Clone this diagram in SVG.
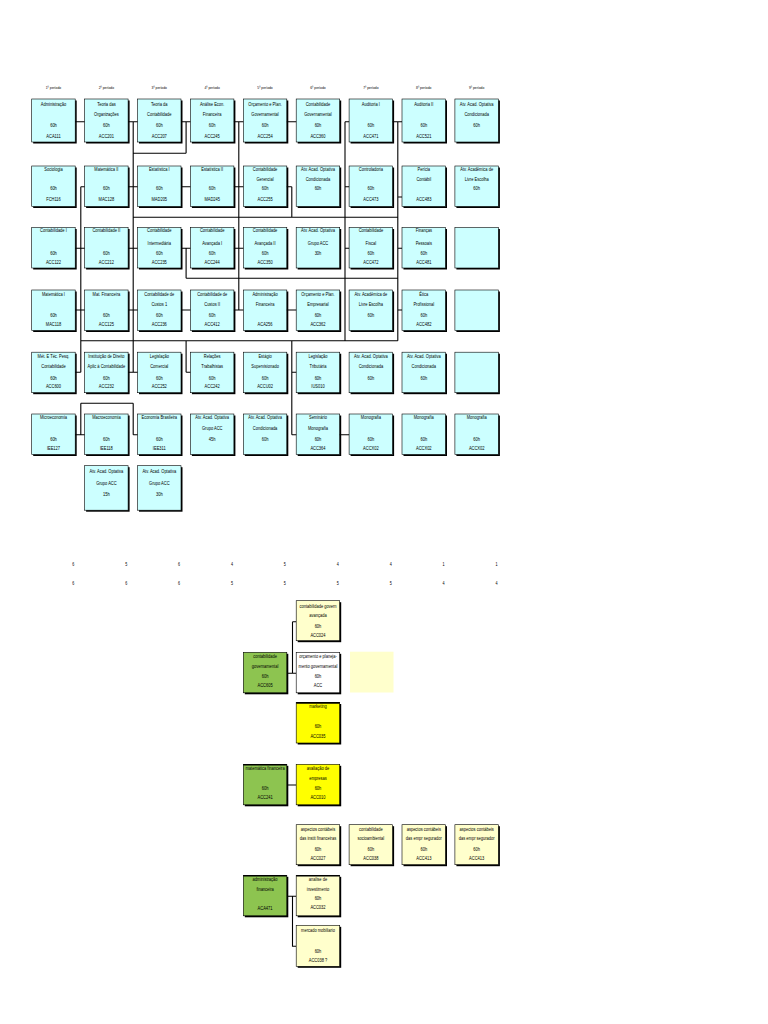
<svg xmlns="http://www.w3.org/2000/svg" width="768" height="1024" viewBox="0 0 768 1024">
<style>
.sh{fill:#000}
.b{stroke:#000;stroke-width:0.6}
.cy{fill:#CCFFFF}.ly{fill:#FFFFCC}.ye{fill:#FFFF00}.gr{fill:#8DC450}.wh{fill:#FFFFFF}
text{font-family:"Liberation Sans",Arial,sans-serif;font-size:4.9px;text-anchor:middle;fill:#000;transform-box:fill-box;transform-origin:center;transform:scaleX(0.82)}
.p{font-size:4.1px}
.n{font-size:4.5px;text-anchor:end}
.c{fill:none;stroke:#000;stroke-width:1.1}
.tt{stroke:#000;stroke-width:1.6}
</style>
<rect width="768" height="1024" fill="#fff"/>
<g id="periodos">
<text class="p" x="53.45" y="88.8">1º período</text>
<text class="p" x="106.35" y="88.8">2º período</text>
<text class="p" x="159.25" y="88.8">3º período</text>
<text class="p" x="212.15" y="88.8">4º período</text>
<text class="p" x="265.05" y="88.8">5º período</text>
<text class="p" x="317.95" y="88.8">6º período</text>
<text class="p" x="370.85" y="88.8">7º período</text>
<text class="p" x="423.75" y="88.8">8º período</text>
<text class="p" x="476.65" y="88.8">9º período</text>
</g>
<!-- Row 1 -->
<g id="r1c1"><rect class="sh" x="33.2" y="100.5" width="43.5" height="43"/><rect class="b cy" x="31.7" y="99" width="43.5" height="43"/><text x="53.45" y="105.8">Administração</text><text x="53.45" y="126.8">60h</text><text x="53.45" y="138.5">ACA111</text></g>
<g id="r1c2"><rect class="sh" x="86.1" y="100.5" width="43.5" height="43"/><rect class="b cy" x="84.6" y="99" width="43.5" height="43"/><text x="106.35" y="105.8">Teoria das</text><text x="106.35" y="116.3">Organizações</text><text x="106.35" y="126.8">60h</text><text x="106.35" y="138.5">ACC201</text></g>
<g id="r1c3"><rect class="sh" x="139" y="100.5" width="43.5" height="43"/><rect class="b cy" x="137.5" y="99" width="43.5" height="43"/><text x="159.25" y="105.8">Teoria da</text><text x="159.25" y="116.3">Contabilidade</text><text x="159.25" y="126.8">60h</text><text x="159.25" y="138.5">ACC207</text></g>
<g id="r1c4"><rect class="sh" x="191.9" y="100.5" width="43.5" height="43"/><rect class="b cy" x="190.4" y="99" width="43.5" height="43"/><text x="212.15" y="105.8">Análise Econ.</text><text x="212.15" y="116.3">Financeira</text><text x="212.15" y="126.8">60h</text><text x="212.15" y="138.5">ACC245</text></g>
<g id="r1c5"><rect class="sh" x="244.8" y="100.5" width="43.5" height="43"/><rect class="b cy" x="243.3" y="99" width="43.5" height="43"/><text x="265.05" y="105.8">Orçamento e Plan.</text><text x="265.05" y="116.3">Governamental</text><text x="265.05" y="126.8">60h</text><text x="265.05" y="138.5">ACC254</text></g>
<g id="r1c6"><rect class="sh" x="297.7" y="100.5" width="43.5" height="43"/><rect class="b cy" x="296.2" y="99" width="43.5" height="43"/><text x="317.95" y="105.8">Contabilidade</text><text x="317.95" y="116.3">Governamental</text><text x="317.95" y="126.8">60h</text><text x="317.95" y="138.5">ACC360</text></g>
<g id="r1c7"><rect class="sh" x="350.6" y="100.5" width="43.5" height="43"/><rect class="b cy" x="349.1" y="99" width="43.5" height="43"/><text x="370.85" y="105.8">Auditoria I</text><text x="370.85" y="126.8">60h</text><text x="370.85" y="138.5">ACC471</text></g>
<g id="r1c8"><rect class="sh" x="403.5" y="100.5" width="43.5" height="43"/><rect class="b cy" x="402" y="99" width="43.5" height="43"/><text x="423.75" y="105.8">Auditoria II</text><text x="423.75" y="126.8">60h</text><text x="423.75" y="138.5">ACC521</text></g>
<g id="r1c9"><rect class="sh" x="456.4" y="100.5" width="43.5" height="43"/><rect class="b cy" x="454.9" y="99" width="43.5" height="43"/><text x="476.65" y="105.8">Atv. Acad. Optativa</text><text x="476.65" y="116.3">Condicionada</text><text x="476.65" y="126.8">60h</text></g>
<!-- Row 2 -->
<g id="r2c1"><rect class="sh" x="33.2" y="167.5" width="43.5" height="40.5"/><rect class="b cy" x="31.7" y="166" width="43.5" height="40.5"/><text x="53.45" y="171.3">Sociologia</text><text x="53.45" y="189.8">60h</text><text x="53.45" y="201.3">FCH116</text></g>
<g id="r2c2"><rect class="sh" x="86.1" y="167.5" width="43.5" height="40.5"/><rect class="b cy" x="84.6" y="166" width="43.5" height="40.5"/><text x="106.35" y="171.3">Matemática II</text><text x="106.35" y="189.8">60h</text><text x="106.35" y="201.3">MAC128</text></g>
<g id="r2c3"><rect class="sh" x="139" y="167.5" width="43.5" height="40.5"/><rect class="b cy" x="137.5" y="166" width="43.5" height="40.5"/><text x="159.25" y="171.3">Estatística I</text><text x="159.25" y="189.8">60h</text><text x="159.25" y="201.3">MAD205</text></g>
<g id="r2c4"><rect class="sh" x="191.9" y="167.5" width="43.5" height="40.5"/><rect class="b cy" x="190.4" y="166" width="43.5" height="40.5"/><text x="212.15" y="171.3">Estatística II</text><text x="212.15" y="189.8">60h</text><text x="212.15" y="201.3">MAD245</text></g>
<g id="r2c5"><rect class="sh" x="244.8" y="167.5" width="43.5" height="40.5"/><rect class="b cy" x="243.3" y="166" width="43.5" height="40.5"/><text x="265.05" y="171.3">Contabilidade</text><text x="265.05" y="181.3">Gerencial</text><text x="265.05" y="189.8">60h</text><text x="265.05" y="201.3">ACC255</text></g>
<g id="r2c6"><rect class="sh" x="297.7" y="167.5" width="43.5" height="40.5"/><rect class="b cy" x="296.2" y="166" width="43.5" height="40.5"/><text x="317.95" y="171.3">Atv. Acad. Optativa</text><text x="317.95" y="181.3">Condicionada</text><text x="317.95" y="189.8">60h</text></g>
<g id="r2c7"><rect class="sh" x="350.6" y="167.5" width="43.5" height="40.5"/><rect class="b cy" x="349.1" y="166" width="43.5" height="40.5"/><text x="370.85" y="171.3">Controladoria</text><text x="370.85" y="189.8">60h</text><text x="370.85" y="201.3">ACC473</text></g>
<g id="r2c8"><rect class="sh" x="403.5" y="167.5" width="43.5" height="40.5"/><rect class="b cy" x="402" y="166" width="43.5" height="40.5"/><text x="423.75" y="171.3">Perícia</text><text x="423.75" y="181.3">Contábil</text><text x="423.75" y="201.3">ACC483</text></g>
<g id="r2c9"><rect class="sh" x="456.4" y="167.5" width="43.5" height="40.5"/><rect class="b cy" x="454.9" y="166" width="43.5" height="40.5"/><text x="476.65" y="171.3">Atv. Acadêmica de</text><text x="476.65" y="181.3">Livre Escolha</text><text x="476.65" y="189.8">60h</text></g>
<!-- Row 3 -->
<g id="r3c1"><rect class="sh" x="33.2" y="229" width="43.5" height="40.5"/><rect class="b cy" x="31.7" y="227.5" width="43.5" height="40.5"/><text x="53.45" y="232.5">Contabilidade I</text><text x="53.45" y="255.1">60h</text><text x="53.45" y="264.5">ACC122</text></g>
<g id="r3c2"><rect class="sh" x="86.1" y="229" width="43.5" height="40.5"/><rect class="b cy" x="84.6" y="227.5" width="43.5" height="40.5"/><text x="106.35" y="232.5">Contabilidade II</text><text x="106.35" y="255.1">60h</text><text x="106.35" y="264.5">ACC212</text></g>
<g id="r3c3"><rect class="sh" x="139" y="229" width="43.5" height="40.5"/><rect class="b cy" x="137.5" y="227.5" width="43.5" height="40.5"/><text x="159.25" y="232.5">Contabilidade</text><text x="159.25" y="245.1">Intermediária</text><text x="159.25" y="255.1">60h</text><text x="159.25" y="264.5">ACC235</text></g>
<g id="r3c4"><rect class="sh" x="191.9" y="229" width="43.5" height="40.5"/><rect class="b cy" x="190.4" y="227.5" width="43.5" height="40.5"/><text x="212.15" y="232.5">Contabilidade</text><text x="212.15" y="245.1">Avançada I</text><text x="212.15" y="255.1">60h</text><text x="212.15" y="264.5">ACC244</text></g>
<g id="r3c5"><rect class="sh" x="244.8" y="229" width="43.5" height="40.5"/><rect class="b cy" x="243.3" y="227.5" width="43.5" height="40.5"/><text x="265.05" y="232.5">Contabilidade</text><text x="265.05" y="245.1">Avançada II</text><text x="265.05" y="255.1">60h</text><text x="265.05" y="264.5">ACC350</text></g>
<g id="r3c6"><rect class="sh" x="297.7" y="229" width="43.5" height="40.5"/><rect class="b cy" x="296.2" y="227.5" width="43.5" height="40.5"/><text x="317.95" y="232.5">Atv. Acad. Optativa</text><text x="317.95" y="245.1">Grupo ACC</text><text x="317.95" y="255.1">30h</text></g>
<g id="r3c7"><rect class="sh" x="350.6" y="229" width="43.5" height="40.5"/><rect class="b cy" x="349.1" y="227.5" width="43.5" height="40.5"/><text x="370.85" y="232.5">Contabilidade</text><text x="370.85" y="245.1">Fiscal</text><text x="370.85" y="255.1">60h</text><text x="370.85" y="264.5">ACC472</text></g>
<g id="r3c8"><rect class="sh" x="403.5" y="229" width="43.5" height="40.5"/><rect class="b cy" x="402" y="227.5" width="43.5" height="40.5"/><text x="423.75" y="232.5">Finanças</text><text x="423.75" y="245.1">Pessoais</text><text x="423.75" y="255.1">60h</text><text x="423.75" y="264.5">ACC481</text></g>
<g id="r3c9"><rect class="sh" x="456.4" y="229" width="43.5" height="40.5"/><rect class="b cy" x="454.9" y="227.5" width="43.5" height="40.5"/></g>
<!-- Row 4 -->
<g id="r4c1"><rect class="sh" x="33.2" y="291.5" width="43.5" height="40.5"/><rect class="b cy" x="31.7" y="290" width="43.5" height="40.5"/><text x="53.45" y="295.8">Matemática I</text><text x="53.45" y="316.8">60h</text><text x="53.45" y="325.8">MAC118</text></g>
<g id="r4c2"><rect class="sh" x="86.1" y="291.5" width="43.5" height="40.5"/><rect class="b cy" x="84.6" y="290" width="43.5" height="40.5"/><text x="106.35" y="295.8">Mat. Financeira</text><text x="106.35" y="316.8">60h</text><text x="106.35" y="325.8">ACC125</text></g>
<g id="r4c3"><rect class="sh" x="139" y="291.5" width="43.5" height="40.5"/><rect class="b cy" x="137.5" y="290" width="43.5" height="40.5"/><text x="159.25" y="295.8">Contabilidade de</text><text x="159.25" y="306.1">Custos 1</text><text x="159.25" y="316.8">60h</text><text x="159.25" y="325.8">ACC236</text></g>
<g id="r4c4"><rect class="sh" x="191.9" y="291.5" width="43.5" height="40.5"/><rect class="b cy" x="190.4" y="290" width="43.5" height="40.5"/><text x="212.15" y="295.8">Contabilidade de</text><text x="212.15" y="306.1">Custos II</text><text x="212.15" y="316.8">60h</text><text x="212.15" y="325.8">ACC412</text></g>
<g id="r4c5"><rect class="sh" x="244.8" y="291.5" width="43.5" height="40.5"/><rect class="b cy" x="243.3" y="290" width="43.5" height="40.5"/><text x="265.05" y="295.8">Administração</text><text x="265.05" y="306.1">Financeira</text><text x="265.05" y="325.8">ACA256</text></g>
<g id="r4c6"><rect class="sh" x="297.7" y="291.5" width="43.5" height="40.5"/><rect class="b cy" x="296.2" y="290" width="43.5" height="40.5"/><text x="317.95" y="295.8">Orçamento e Plan.</text><text x="317.95" y="306.1">Empresarial</text><text x="317.95" y="316.8">60h</text><text x="317.95" y="325.8">ACC362</text></g>
<g id="r4c7"><rect class="sh" x="350.6" y="291.5" width="43.5" height="40.5"/><rect class="b cy" x="349.1" y="290" width="43.5" height="40.5"/><text x="370.85" y="295.8">Atv. Acadêmica de</text><text x="370.85" y="306.1">Livre Escolha</text><text x="370.85" y="316.8">60h</text></g>
<g id="r4c8"><rect class="sh" x="403.5" y="291.5" width="43.5" height="40.5"/><rect class="b cy" x="402" y="290" width="43.5" height="40.5"/><text x="423.75" y="295.8">Ética</text><text x="423.75" y="306.1">Profissional</text><text x="423.75" y="316.8">60h</text><text x="423.75" y="325.8">ACC482</text></g>
<g id="r4c9"><rect class="sh" x="456.4" y="291.5" width="43.5" height="40.5"/><rect class="b cy" x="454.9" y="290" width="43.5" height="40.5"/></g>
<!-- Row 5 -->
<g id="r5c1"><rect class="sh" x="33.2" y="353.7" width="43.5" height="40.5"/><rect class="b cy" x="31.7" y="352.2" width="43.5" height="40.5"/><text x="53.45" y="358.5">Mét. E Téc. Pesq.</text><text x="53.45" y="368.5">Contabilidade</text><text x="53.45" y="380.1">60h</text><text x="53.45" y="388.5">ACC600</text></g>
<g id="r5c2"><rect class="sh" x="86.1" y="353.7" width="43.5" height="40.5"/><rect class="b cy" x="84.6" y="352.2" width="43.5" height="40.5"/><text x="106.35" y="358.5">Instituição de Direito</text><text x="106.35" y="368.5">Aplic à Contabilidade</text><text x="106.35" y="380.1">60h</text><text x="106.35" y="388.5">ACC232</text></g>
<g id="r5c3"><rect class="sh" x="139" y="353.7" width="43.5" height="40.5"/><rect class="b cy" x="137.5" y="352.2" width="43.5" height="40.5"/><text x="159.25" y="358.5">Legislação</text><text x="159.25" y="368.5">Comercial</text><text x="159.25" y="380.1">60h</text><text x="159.25" y="388.5">ACC252</text></g>
<g id="r5c4"><rect class="sh" x="191.9" y="353.7" width="43.5" height="40.5"/><rect class="b cy" x="190.4" y="352.2" width="43.5" height="40.5"/><text x="212.15" y="358.5">Relações</text><text x="212.15" y="368.5">Trabalhistas</text><text x="212.15" y="380.1">60h</text><text x="212.15" y="388.5">ACC242</text></g>
<g id="r5c5"><rect class="sh" x="244.8" y="353.7" width="43.5" height="40.5"/><rect class="b cy" x="243.3" y="352.2" width="43.5" height="40.5"/><text x="265.05" y="358.5">Estágio</text><text x="265.05" y="368.5">Supervisionado</text><text x="265.05" y="380.1">60h</text><text x="265.05" y="388.5">ACCU02</text></g>
<g id="r5c6"><rect class="sh" x="297.7" y="353.7" width="43.5" height="40.5"/><rect class="b cy" x="296.2" y="352.2" width="43.5" height="40.5"/><text x="317.95" y="358.5">Legislação</text><text x="317.95" y="368.5">Tributária</text><text x="317.95" y="380.1">60h</text><text x="317.95" y="388.5">IUS010</text></g>
<g id="r5c7"><rect class="sh" x="350.6" y="353.7" width="43.5" height="40.5"/><rect class="b cy" x="349.1" y="352.2" width="43.5" height="40.5"/><text x="370.85" y="358.5">Atv. Acad. Optativa</text><text x="370.85" y="368.5">Condicionada</text><text x="370.85" y="380.1">60h</text></g>
<g id="r5c8"><rect class="sh" x="403.5" y="353.7" width="43.5" height="40.5"/><rect class="b cy" x="402" y="352.2" width="43.5" height="40.5"/><text x="423.75" y="358.5">Atv. Acad. Optativa</text><text x="423.75" y="368.5">Condicionada</text><text x="423.75" y="380.1">60h</text></g>
<g id="r5c9"><rect class="sh" x="456.4" y="353.7" width="43.5" height="40.5"/><rect class="b cy" x="454.9" y="352.2" width="43.5" height="40.5"/></g>
<!-- Row 6 -->
<g id="r6c1"><rect class="sh" x="33.2" y="415.5" width="43.5" height="40.5"/><rect class="b cy" x="31.7" y="414" width="43.5" height="40.5"/><text x="53.45" y="419.1">Microeconomia</text><text x="53.45" y="441.3">60h</text><text x="53.45" y="450.3">IEE127</text></g>
<g id="r6c2"><rect class="sh" x="86.1" y="415.5" width="43.5" height="40.5"/><rect class="b cy" x="84.6" y="414" width="43.5" height="40.5"/><text x="106.35" y="419.1">Macroeconomia</text><text x="106.35" y="441.3">60h</text><text x="106.35" y="450.3">IEE118</text></g>
<g id="r6c3"><rect class="sh" x="139" y="415.5" width="43.5" height="40.5"/><rect class="b cy" x="137.5" y="414" width="43.5" height="40.5"/><text x="159.25" y="419.1">Economia Brasileira</text><text x="159.25" y="441.3">60h</text><text x="159.25" y="450.3">IEE311</text></g>
<g id="r6c4"><rect class="sh" x="191.9" y="415.5" width="43.5" height="40.5"/><rect class="b cy" x="190.4" y="414" width="43.5" height="40.5"/><text x="212.15" y="419.1">Atv. Acad. Optativa</text><text x="212.15" y="430.1">Grupo ACC</text><text x="212.15" y="441.3">45h</text></g>
<g id="r6c5"><rect class="sh" x="244.8" y="415.5" width="43.5" height="40.5"/><rect class="b cy" x="243.3" y="414" width="43.5" height="40.5"/><text x="265.05" y="419.1">Atv. Acad. Optativa</text><text x="265.05" y="430.1">Condicionada</text><text x="265.05" y="441.3">60h</text></g>
<g id="r6c6"><rect class="sh" x="297.7" y="415.5" width="43.5" height="40.5"/><rect class="b cy" x="296.2" y="414" width="43.5" height="40.5"/><text x="317.95" y="419.1">Seminário</text><text x="317.95" y="430.1">Monografia</text><text x="317.95" y="441.3">60h</text><text x="317.95" y="450.3">ACC364</text></g>
<g id="r6c7"><rect class="sh" x="350.6" y="415.5" width="43.5" height="40.5"/><rect class="b cy" x="349.1" y="414" width="43.5" height="40.5"/><text x="370.85" y="419.1">Monografia</text><text x="370.85" y="441.3">60h</text><text x="370.85" y="450.3">ACCX02</text></g>
<g id="r6c8"><rect class="sh" x="403.5" y="415.5" width="43.5" height="40.5"/><rect class="b cy" x="402" y="414" width="43.5" height="40.5"/><text x="423.75" y="419.1">Monografia</text><text x="423.75" y="441.3">60h</text><text x="423.75" y="450.3">ACCX02</text></g>
<g id="r6c9"><rect class="sh" x="456.4" y="415.5" width="43.5" height="40.5"/><rect class="b cy" x="454.9" y="414" width="43.5" height="40.5"/><text x="476.65" y="419.1">Monografia</text><text x="476.65" y="441.3">60h</text><text x="476.65" y="450.3">ACCX02</text></g>
<!-- Row 7 -->
<g id="r7c2"><rect class="sh" x="86.1" y="467.2" width="43.5" height="44.5"/><rect class="b cy" x="84.6" y="465.7" width="43.5" height="44.5"/><text x="106.35" y="473.5">Atv. Acad. Optativa</text><text x="106.35" y="485.1">Grupo ACC</text><text x="106.35" y="495.8">15h</text></g>
<g id="r7c3"><rect class="sh" x="139" y="467.2" width="43.5" height="44.5"/><rect class="b cy" x="137.5" y="465.7" width="43.5" height="44.5"/><text x="159.25" y="473.5">Atv. Acad. Optativa</text><text x="159.25" y="485.1">Grupo ACC</text><text x="159.25" y="495.8">30h</text></g>
<!-- Connectors -->
<g id="connectors">
<path class="c" d="M75.2 121.7H84.6M128.1 121.7H137.5M181 121.7H190.4M233.9 121.7H243.3M286.8 121.7H296.2M345 121.7H349.1M392.6 121.7H402
M80.8 186.7H84.6M128.1 186.7H137.5M181 186.7H190.4M233.9 186.7H243.3M286.8 186.7H291.8M345 186.7H349.1M397.8 197H402
M75.2 248.3H84.6M128.1 248.3H137.5M181 248.3H190.4M233.9 248.3H243.3M345 248.3H349.1M397.8 248.3H402
M75.2 310H84.6M128.1 310H137.5M181 310H190.4M233.9 310H243.3M286.8 310H296.2M397.8 310H402
M75.2 372.3H80.8M128.1 372.3H137.5M186.1 372.3H190.4M291.8 372.3H296.2
M75.2 434.7H84.6M133.2 434.7H137.5M291.8 434.7H296.2M339.7 434.7H349.1
M80.8 186.7V372.3M80.8 403.3V434.7
M133.2 121.7V372.3M133.2 403.3V434.7
M186.1 121.7V153.3M186.1 248.3V278.3M186.1 340.7V372.3
M238.8 121.7V310
M291.8 186.7V217.3M291.8 340.7V434.7
M345 121.7V340.7
M397.8 121.7V340.7
M133.2 153.3H186.1M133.2 217.3H397.8M186.1 278.3H397.8M80.8 340.7H397.8M80.8 403.3H133.2
M286.8 673.3H296.2M292.5 621.7V673.3M292.5 621.7H296.2
M286.8 785H296.2
M286.8 896.3H296.2M292.5 896.3V946.3H296.2"/>
</g>
<!-- Totals -->
<g id="totais">
<text class="n" x="74.5" y="566.5">6</text><text class="n" x="127.4" y="566.5">5</text><text class="n" x="180.3" y="566.5">6</text><text class="n" x="233.2" y="566.5">4</text><text class="n" x="286.1" y="566.5">5</text><text class="n" x="339" y="566.5">4</text><text class="n" x="391.9" y="566.5">4</text><text class="n" x="444.8" y="566.5">1</text><text class="n" x="497.7" y="566.5">1</text>
<text class="n" x="74.5" y="584.8">6</text><text class="n" x="127.4" y="584.8">6</text><text class="n" x="180.3" y="584.8">6</text><text class="n" x="233.2" y="584.8">5</text><text class="n" x="286.1" y="584.8">5</text><text class="n" x="339" y="584.8">5</text><text class="n" x="391.9" y="584.8">5</text><text class="n" x="444.8" y="584.8">4</text><text class="n" x="497.7" y="584.8">4</text>
</g>
<!-- Bottom section -->
<g id="b-govavancada"><rect class="sh" x="297.7" y="602.2" width="43.5" height="40"/><rect class="b ly" x="296.2" y="600.7" width="43.5" height="40"/><text x="317.95" y="607.8">contabilidade govern</text><text x="317.95" y="617.5">avançada</text><text x="317.95" y="627.8">60h</text><text x="317.95" y="637.5">ACC024</text></g>
<g id="b-contgov"><rect class="sh" x="244.8" y="653.8" width="43.5" height="40.5"/><rect class="b gr" x="243.3" y="652.3" width="43.5" height="40.5"/><text x="265.05" y="658.2">contabilidade</text><text x="265.05" y="668.5">governamental</text><text x="265.05" y="678.5">60h</text><text x="265.05" y="687.5">ACC605</text></g>
<g id="b-orcgov"><rect class="sh" x="297.7" y="653.8" width="43.5" height="40.5"/><rect class="b wh" x="296.2" y="652.3" width="43.5" height="40.5"/><text x="317.95" y="658.5">orçamento e planeja-</text><text x="317.95" y="668.5">mento governamental</text><text x="317.95" y="678.5">60h</text><text x="317.95" y="687.5">ACC</text></g>
<rect id="b-vazio" x="350" y="651.7" width="43.5" height="40.8" fill="#FFFFCC"/>
<g id="b-marketing"><rect class="sh" x="297.7" y="704" width="43.5" height="40.5"/><rect class="b ye" x="296.2" y="702.5" width="43.5" height="40.5"/><line class="tt" x1="296.2" y1="702.9" x2="339.7" y2="702.9"/><text x="317.95" y="708.5">marketing</text><text x="317.95" y="728.5">60h</text><text x="317.95" y="737.8">ACC035</text></g>
<g id="b-matfin"><rect class="sh" x="244.8" y="765.8" width="43.5" height="40.5"/><rect class="b gr" x="243.3" y="764.3" width="43.5" height="40.5"/><line class="tt" x1="243.3" y1="764.7" x2="286.8" y2="764.7"/><text x="265.05" y="770.1">matemática financeira</text><text x="265.05" y="790.1">60h</text><text x="265.05" y="799.1">ACC241</text></g>
<g id="b-avaliacao"><rect class="sh" x="297.7" y="765.8" width="43.5" height="40.5"/><rect class="b ye" x="296.2" y="764.3" width="43.5" height="40.5"/><text x="317.95" y="770.1">avaliação de</text><text x="317.95" y="780.1">empresas</text><text x="317.95" y="790.1">60h</text><text x="317.95" y="799.1">ACC010</text></g>
<g id="b-asp1"><rect class="sh" x="297.7" y="826.2" width="43.5" height="40"/><rect class="b ly" x="296.2" y="824.7" width="43.5" height="40"/><text x="317.95" y="830.8">aspectos contábeis</text><text x="317.95" y="839.8">das instit financeiras</text><text x="317.95" y="851.5">60h</text><text x="317.95" y="860.5">ACC027</text></g>
<g id="b-socio"><rect class="sh" x="350.6" y="826.2" width="43.5" height="40"/><rect class="b ly" x="349.1" y="824.7" width="43.5" height="40"/><text x="370.85" y="830.8">contabilidade</text><text x="370.85" y="839.8">socioambiental</text><text x="370.85" y="851.5">60h</text><text x="370.85" y="860.5">ACC038</text></g>
<g id="b-asp2"><rect class="sh" x="403.5" y="826.2" width="43.5" height="40"/><rect class="b ly" x="402" y="824.7" width="43.5" height="40"/><text x="423.75" y="830.8">aspectos contábeis</text><text x="423.75" y="839.8">das empr segurador</text><text x="423.75" y="851.5">60h</text><text x="423.75" y="860.5">ACC413</text></g>
<g id="b-asp3"><rect class="sh" x="456.4" y="826.2" width="43.5" height="40"/><rect class="b ly" x="454.9" y="824.7" width="43.5" height="40"/><text x="476.65" y="830.8">aspectos contábeis</text><text x="476.65" y="839.8">das empr segurador</text><text x="476.65" y="851.5">60h</text><text x="476.65" y="860.5">ACC413</text></g>
<g id="b-admfin"><rect class="sh" x="244.8" y="876.8" width="43.5" height="40.5"/><rect class="b gr" x="243.3" y="875.3" width="43.5" height="40.5"/><line class="tt" x1="243.3" y1="875.7" x2="286.8" y2="875.7"/><text x="265.05" y="880.8">administração</text><text x="265.05" y="890.8">financeira</text><text x="265.05" y="909.8">ACA471</text></g>
<g id="b-investimento"><rect class="sh" x="297.7" y="876.8" width="43.5" height="40.5"/><rect class="b ly" x="296.2" y="875.3" width="43.5" height="40.5"/><line class="tt" x1="296.2" y1="875.7" x2="339.7" y2="875.7"/><text x="317.95" y="881.5">analise de</text><text x="317.95" y="890.8">investimento</text><text x="317.95" y="899.8">60h</text><text x="317.95" y="909.1">ACC032</text></g>
<g id="b-mercado"><rect class="sh" x="297.7" y="926.8" width="43.5" height="41"/><rect class="b ly" x="296.2" y="925.3" width="43.5" height="41"/><text x="317.95" y="932.5">mercado mobiliario</text><text x="317.95" y="953.1">60h</text><text x="317.95" y="962.5">ACC038  ?</text></g>
</svg>
